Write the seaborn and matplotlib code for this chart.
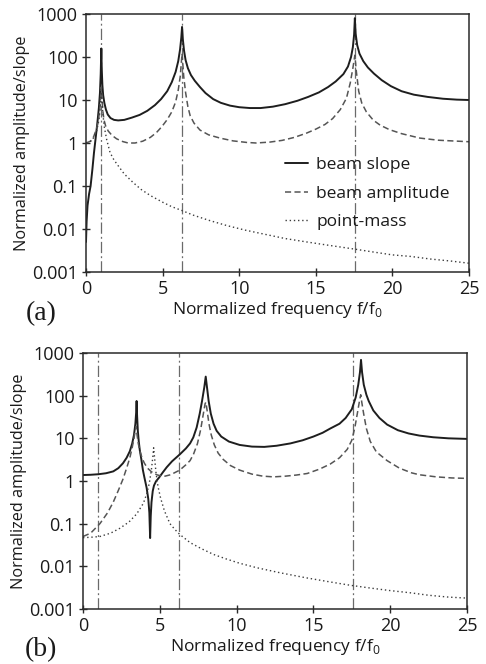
import numpy as np
import pandas as pd
import matplotlib
matplotlib.use("Agg")
import matplotlib.pyplot as plt
from matplotlib.ticker import FixedLocator, FixedFormatter, NullLocator
import seaborn as sns

# ---------------- data ----------------
y_ticks = [0.001, 0.01, 0.1, 1, 10, 100, 1000]
y_tick_labels = ["0.001", "0.01", "0.1", "1", "10", "100", "1000"]
x_ticks = [0, 5, 10, 15, 20, 25]
x_tick_labels = ["0", "5", "10", "15", "20", "25"]
series_names = ["beam slope", "beam amplitude", "point-mass"]
beam_resonances = [1.0, 6.27, 17.55]

# panel (a)
a_slope_x = [0.0, 0.04, 0.1, 0.2, 0.3, 0.42, 0.52, 0.64, 0.74, 0.84, 0.91, 0.96, 1.0,
             1.03, 1.07, 1.12, 1.2, 1.3, 1.42, 1.6, 1.83, 2.1, 2.5, 3.0, 3.5, 4.0, 4.5,
             4.9, 5.3, 5.6, 5.85, 6.02, 6.14, 6.22, 6.27, 6.32, 6.4, 6.5, 6.65, 6.85,
             7.1, 7.44, 7.8, 8.3, 8.8, 9.4, 10.0, 10.7, 11.4, 12.2, 13.0, 13.8, 14.5,
             15.2, 15.8, 16.3, 16.8, 17.1, 17.3, 17.42, 17.5, 17.55, 17.6, 17.7, 17.85,
             18.1, 18.4, 18.8, 19.3, 19.9, 20.6, 21.4, 22.3, 23.3, 24.2, 25.0]
a_slope_y = [0.005, 0.015, 0.035, 0.065, 0.1, 0.25, 0.59, 1.4, 2.9, 6.5, 14.5, 40, 158,
             50, 22, 13, 8.5, 6.0, 4.6, 3.8, 3.45, 3.35, 3.45, 3.9, 4.5, 5.6, 7.6,
             10.5, 16, 26, 45, 80, 150, 280, 500, 260, 140, 85, 55, 38,
             28, 20, 14.5, 10.5, 8.6, 7.4, 6.8, 6.5, 6.5, 7.0, 8.0, 9.6, 11.8,
             15, 20, 27, 40, 60, 100, 170, 330, 800, 350, 190, 120,
             80, 57, 41, 29, 21, 16, 13.3, 11.8, 10.7, 10.2, 10.0]

a_amp_x = [0.0, 0.3, 0.5, 0.7, 0.82, 0.9, 0.96, 1.0, 1.04, 1.1, 1.17, 1.28, 1.45, 1.7,
           2.0, 2.4, 2.75, 3.2, 3.7, 4.2, 4.6, 4.95, 5.3, 5.6, 5.85, 6.02, 6.15, 6.27,
           6.38, 6.5, 6.65, 6.8, 7.05, 7.44, 8.0, 8.75, 9.6, 10.5, 11.1, 12.0, 12.8,
           13.6, 14.4, 15.0, 15.6, 16.1, 16.6, 17.0, 17.25, 17.42, 17.55, 17.65, 17.8,
           18.0, 18.3, 18.75, 19.2, 19.8, 20.6, 21.8, 23.0, 25.0]
a_amp_y = [1.0, 1.1, 1.4, 2.2, 3.6, 6.0, 12, 20, 11, 5.5, 3.5, 2.5, 1.9, 1.5,
           1.25, 1.08, 1.0, 1.0, 1.1, 1.35, 1.75, 2.4, 3.5, 5.3, 9.0, 17, 35, 120,
           35, 15, 7.0, 4.3, 2.9, 2.0, 1.55, 1.3, 1.12, 1.03, 1.0, 1.05, 1.15,
           1.35, 1.7, 2.1, 2.7, 3.7, 6.0, 11, 25, 55, 110, 45, 16,
           8.5, 5.3, 3.4, 2.6, 2.05, 1.65, 1.3, 1.16, 1.07]

a_mass_x = [0.0, 0.3, 0.5, 0.7, 0.82, 0.9, 0.96, 1.0, 1.04, 1.1, 1.2, 1.35, 1.57, 1.8,
            2.0, 2.5, 3.08, 3.6, 4.2, 5.0, 5.6, 6.25, 7.0, 8.0, 9.2, 10.4, 11.7, 13.0,
            14.4, 15.8, 17.55, 18.8, 20.0, 21.2, 22.5, 23.8, 25.0]
a_mass_y = [1.0, 1.1, 1.33, 1.95, 3.1, 5.2, 11, 14, 11, 4.8, 2.3, 1.2, 0.6, 0.42,
            0.33, 0.19, 0.12, 0.083, 0.06, 0.042, 0.033, 0.027, 0.021, 0.016, 0.012,
            0.0094, 0.0075, 0.006, 0.005, 0.0042, 0.0034, 0.0029, 0.0025, 0.0023,
            0.002, 0.0018, 0.0016]

# panel (b)
b_slope_x = [0.0, 0.5, 1.0, 1.5, 1.97, 2.3, 2.6, 2.84, 3.05, 3.2, 3.32, 3.41, 3.46, 3.49,
             3.52, 3.57, 3.63, 3.7, 3.8, 3.9, 4.0, 4.14, 4.25, 4.32, 4.37, 4.41, 4.46,
             4.54, 4.62, 4.75, 4.95, 5.2, 5.45, 5.8, 6.3, 6.7, 6.97, 7.18, 7.4, 7.6,
             7.75, 7.9, 7.99, 8.07, 8.18, 8.32, 8.5, 8.7, 9.0, 9.5, 10.2, 11.0, 11.8,
             12.6, 13.5, 14.3, 15.0, 15.6, 16.1, 16.7, 17.1, 17.5, 17.75, 17.92, 18.03,
             18.1, 18.17, 18.28, 18.45, 18.6, 18.9, 19.3, 19.8, 20.5, 21.2, 21.9, 22.8,
             23.8, 25.0]
b_slope_y = [1.38, 1.4, 1.44, 1.52, 1.68, 2.0, 2.6, 3.5, 5.0, 7.5, 12, 22, 40, 75,
             35, 15, 8.5, 5.2, 3.2, 1.8, 1.2, 0.7, 0.38, 0.18, 0.046, 0.15, 0.32,
             0.58, 0.78, 0.98, 1.2, 1.6, 2.1, 2.9, 4.2, 5.8, 7.6, 10.5, 18, 38,
             75, 160, 280, 160, 75, 38, 22, 15, 11, 8.4, 7.0, 6.4, 6.3,
             6.7, 7.6, 9.0, 11, 13.5, 17, 22, 30, 48, 90, 180, 350,
             690, 350, 180, 105, 75, 45, 30, 21, 15.5, 13, 11.6, 10.6,
             10.0, 9.7]

b_amp_x = [0.0, 0.5, 1.1, 1.6, 1.97, 2.3, 2.6, 2.84, 3.05, 3.2, 3.32, 3.41, 3.46, 3.52,
           3.6, 3.71, 3.85, 4.0, 4.2, 4.45, 4.8, 5.23, 5.7, 6.3, 6.7, 6.97, 7.2, 7.45,
           7.66, 7.82, 7.95, 8.0, 8.08, 8.2, 8.35, 8.55, 8.8, 9.13, 9.6, 10.2, 11.0,
           11.7, 12.4, 13.2, 13.9, 14.6, 15.4, 16.1, 16.7, 17.2, 17.5, 17.7, 17.87,
           18.0, 18.08, 18.15, 18.27, 18.45, 18.7, 19.1, 19.8, 20.6, 21.4, 21.9, 23.0,
           24.0, 25.0]
b_amp_y = [0.05, 0.06, 0.1, 0.18, 0.32, 0.6, 1.1, 2.0, 3.5, 6.0, 10, 16, 19, 12,
           7.5, 5.0, 3.4, 2.6, 2.0, 1.65, 1.4, 1.27, 1.4, 1.8, 2.4, 3.0, 4.3, 7.5,
           16, 35, 65, 70, 45, 22, 12, 7.0, 4.5, 3.2, 2.3, 1.8, 1.45,
           1.3, 1.25, 1.3, 1.38, 1.5, 1.9, 2.5, 3.5, 5.5, 9.0, 18, 40,
           75, 105, 70, 38, 17, 8.5, 4.8, 3.0, 2.0, 1.55, 1.4, 1.25,
           1.18, 1.15]

b_mass_x = [0.0, 0.5, 1.1, 1.8, 2.4, 3.0, 3.5, 3.93, 4.15, 4.32, 4.45, 4.54, 4.6, 4.66,
            4.75, 4.88, 5.05, 5.3, 5.66, 6.0, 6.3, 6.97, 7.7, 8.5, 9.3, 10.2, 11.3,
            12.8, 14.5, 16.1, 17.4, 18.7, 20.0, 21.3, 22.5, 23.8, 25.0]
b_mass_y = [0.047, 0.048, 0.05, 0.06, 0.078, 0.11, 0.17, 0.3, 0.5, 0.9, 1.8, 3.5, 6.0, 3.5,
            1.6, 0.75, 0.4, 0.2, 0.1, 0.072, 0.056, 0.036, 0.026, 0.019, 0.015, 0.0118,
            0.0093, 0.0071, 0.0054, 0.0043, 0.0036, 0.0031, 0.0027, 0.0024, 0.0021,
            0.0019, 0.0018]


def make_frame(xs, ys):
    parts = []
    for name, x, y in zip(series_names, xs, ys):
        parts.append(pd.DataFrame({"f": x, "v": y, "series": name}))
    return pd.concat(parts, ignore_index=True)


df_a = make_frame([a_slope_x, a_amp_x, a_mass_x], [a_slope_y, a_amp_y, a_mass_y])
df_b = make_frame([b_slope_x, b_amp_x, b_mass_x], [b_slope_y, b_amp_y, b_mass_y])

# ---------------- style ----------------
sns.set_theme(style="ticks")
plt.rcParams["font.family"] = ["Open Sans", "DejaVu Sans"]
plt.rcParams["axes.linewidth"] = 1.1
plt.rcParams["axes.edgecolor"] = "#2a2a2a"

palette = {"beam slope": "#1e1e1e", "beam amplitude": "#555555", "point-mass": "#3c3c3c"}
widths = {"beam slope": 1.4, "beam amplitude": 1.1, "point-mass": 1.0}

fig = plt.figure(figsize=(4.86, 6.64), dpi=100)
ax_a = fig.add_axes([86 / 486, 1 - 272 / 664, 383 / 486, 258 / 664])
ax_b = fig.add_axes([83 / 486, 1 - 609 / 664, 384 / 486, 256 / 664])

TICK_FS = 13
LABEL_FS = 12.5
YLABEL_FS = 11.7


def draw(ax, df, panel_label, label_x, show_legend):
    for name in series_names:
        sub = df[df["series"] == name]
        sns.lineplot(data=sub, x="f", y="v", ax=ax, estimator=None, sort=False,
                     color=palette[name], linewidth=widths[name], label=name,
                     legend=False)
    for line, name in zip(ax.get_lines(), series_names):
        line.set_solid_joinstyle("round")
        if name == "beam amplitude":
            line.set_linestyle((0, (4, 2.2)))
        elif name == "point-mass":
            line.set_linestyle((0, (1, 2)))
    for fr in beam_resonances:
        ax.axvline(fr, color="#6a6a6a", linewidth=0.9,
                   linestyle=(0, (9, 2.5, 1.5, 2.5)), zorder=0)
    ax.set_yscale("log")
    ax.set_xlim(0, 25)
    ax.set_ylim(0.001, 1000)
    ax.yaxis.set_major_locator(FixedLocator(y_ticks))
    ax.yaxis.set_major_formatter(FixedFormatter(y_tick_labels))
    ax.yaxis.set_minor_locator(NullLocator())
    ax.xaxis.set_major_locator(FixedLocator(x_ticks))
    ax.xaxis.set_major_formatter(FixedFormatter(x_tick_labels))
    ax.tick_params(axis="both", direction="inout", length=6, width=1.0,
                   color="#2a2a2a", labelsize=TICK_FS, pad=3, labelcolor="#1a1a1a")
    ax.set_xlabel("Normalized frequency f/f$_\\mathregular{0}$", fontsize=LABEL_FS,
                  labelpad=1, color="#1a1a1a")
    ax.set_ylabel("Normalized amplitude/slope", fontsize=YLABEL_FS, labelpad=1.5,
                  color="#1a1a1a")
    for s in ax.spines.values():
        s.set_visible(True)
    ax.text(label_x, -0.16, panel_label, transform=ax.transAxes,
            family=["Liberation Serif", "DejaVu Serif"], fontsize=20,
            ha="center", va="center", color="#1a1a1a")
    if show_legend:
        ax.legend(loc="upper left", bbox_to_anchor=(0.497, 0.48), frameon=False,
                  fontsize=LABEL_FS, handlelength=1.3, handletextpad=0.5,
                  labelspacing=0.72, borderpad=0, labelcolor="#1a1a1a")


draw(ax_a, df_a, "(a)", -0.117, True)
draw(ax_b, df_b, "(b)", -0.109, False)

fig.savefig("out.png", dpi=100, facecolor="white")
